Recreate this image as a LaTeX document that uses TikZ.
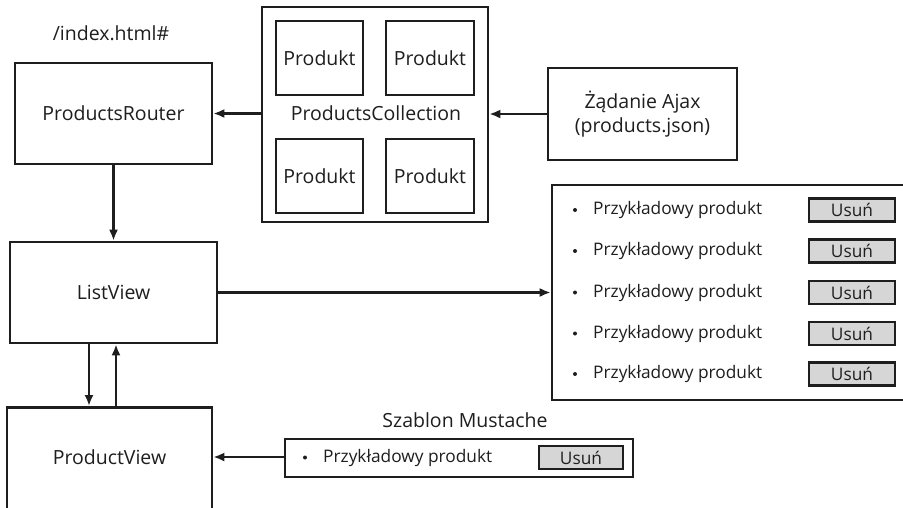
\documentclass[tikz,border=0pt]{standalone}
\usepackage{fontspec}
\setmainfont{Open Sans}
\usetikzlibrary{arrows.meta}
\definecolor{btn}{HTML}{D6D6D6}
\definecolor{ink}{HTML}{1E1E1E}
\tikzset{
  box/.style={draw=ink, line width=2.6pt, fill=white, inner sep=0pt, font=\fontsize{19.5}{24}\selectfont, text=ink},
  big/.style={font=\fontsize{19.5}{24}\selectfont, text=ink, inner sep=0pt},
  row/.style={font=\fontsize{17.3}{20}\selectfont, text=ink, inner sep=0pt, anchor=west},
  btnbox/.style={draw=ink, line width=2.4pt, fill=btn, minimum width=86pt, minimum height=23pt, inner sep=0pt, font=\fontsize{17.3}{20}\selectfont, text=ink},
  dot/.style={circle, fill=ink, inner sep=0pt, minimum size=4pt},
  arr/.style={draw=ink, line width=2.3pt, -{Latex[length=11pt,width=9pt]}}
}
\begin{document}
\begin{tikzpicture}[x=1pt,y=-1pt]
\useasboundingbox (0,0) rectangle (903,507);
\clip (0,0) rectangle (903,507);
% Router
\node[big] (idx) at (111,33) {/index.html\#};
\node[box, minimum width=197pt, minimum height=101pt] (router) at (113.5,113.5) {ProductsRouter};
% Collection
\node[box, minimum width=226pt, minimum height=215pt] (coll) at (375,114.5) {};
\node[box, minimum width=87pt, minimum height=74pt] (p1) at (319.5,58) {Produkt};
\node[box, minimum width=88pt, minimum height=74pt] (p2) at (430,58) {Produkt};
\node[box, minimum width=87pt, minimum height=74pt] (p3) at (319.5,176) {Produkt};
\node[box, minimum width=88pt, minimum height=74pt] (p4) at (430,176) {Produkt};
\node[big] (colllab) at (376,113) {ProductsCollection};
% Ajax
\node[box, minimum width=189pt, minimum height=92pt, align=center] (ajax) at (642.5,114) {Żądanie Ajax\\(products.json)};
% ListView
\node[box, minimum width=207pt, minimum height=101pt] (list) at (113.5,292.5) {ListView};
% ProductView
\node[box, minimum width=205pt, minimum height=120pt, anchor=north] (pv) at (109.5,406) {};
\node[big] (pvlab) at (109.5,457) {ProductView};
% list box
\node[box, minimum width=363pt, minimum height=215pt] (lbox) at (733.5,292.5) {};
\foreach \i/\y in {1/210,2/251,3/292.5,4/333.5,5/374}{
  \node[dot] (d\i) at (575,\y) {};
  \node[row] (t\i) at (593,\y) {Przykładowy produkt};
  \node[btnbox] (b\i) at (852,\y) {Usuń};
}
% template
\node[big] (tpllab) at (465,420) {Szablon Mustache};
\node[box, minimum width=348pt, minimum height=38pt] (tpl) at (459,458) {};
\node[dot] (td) at (305,457.5) {};
\node[row] (tt) at (323,457.5) {Przykładowy produkt};
\node[btnbox, minimum width=84pt] (tb) at (581,457.5) {Usuń};
% arrows
\draw[arr] (coll.west |- router.east) -- (router.east);
\draw[arr] (ajax.west) -- (ajax.west -| coll.east);
\draw[arr] (router.south) -- (list.north -| router.south);
\draw[arr] (list.east) -- (list.east -| lbox.west);
\draw[arr] (list.south -| 89,0) -- (pv.north -| 89,0);
\draw[arr] (pv.north -| 116,0) -- (list.south -| 116,0);
\draw[arr] (tpl.west |- pvlab) -- (pv.east |- pvlab);
\end{tikzpicture}
\end{document}
